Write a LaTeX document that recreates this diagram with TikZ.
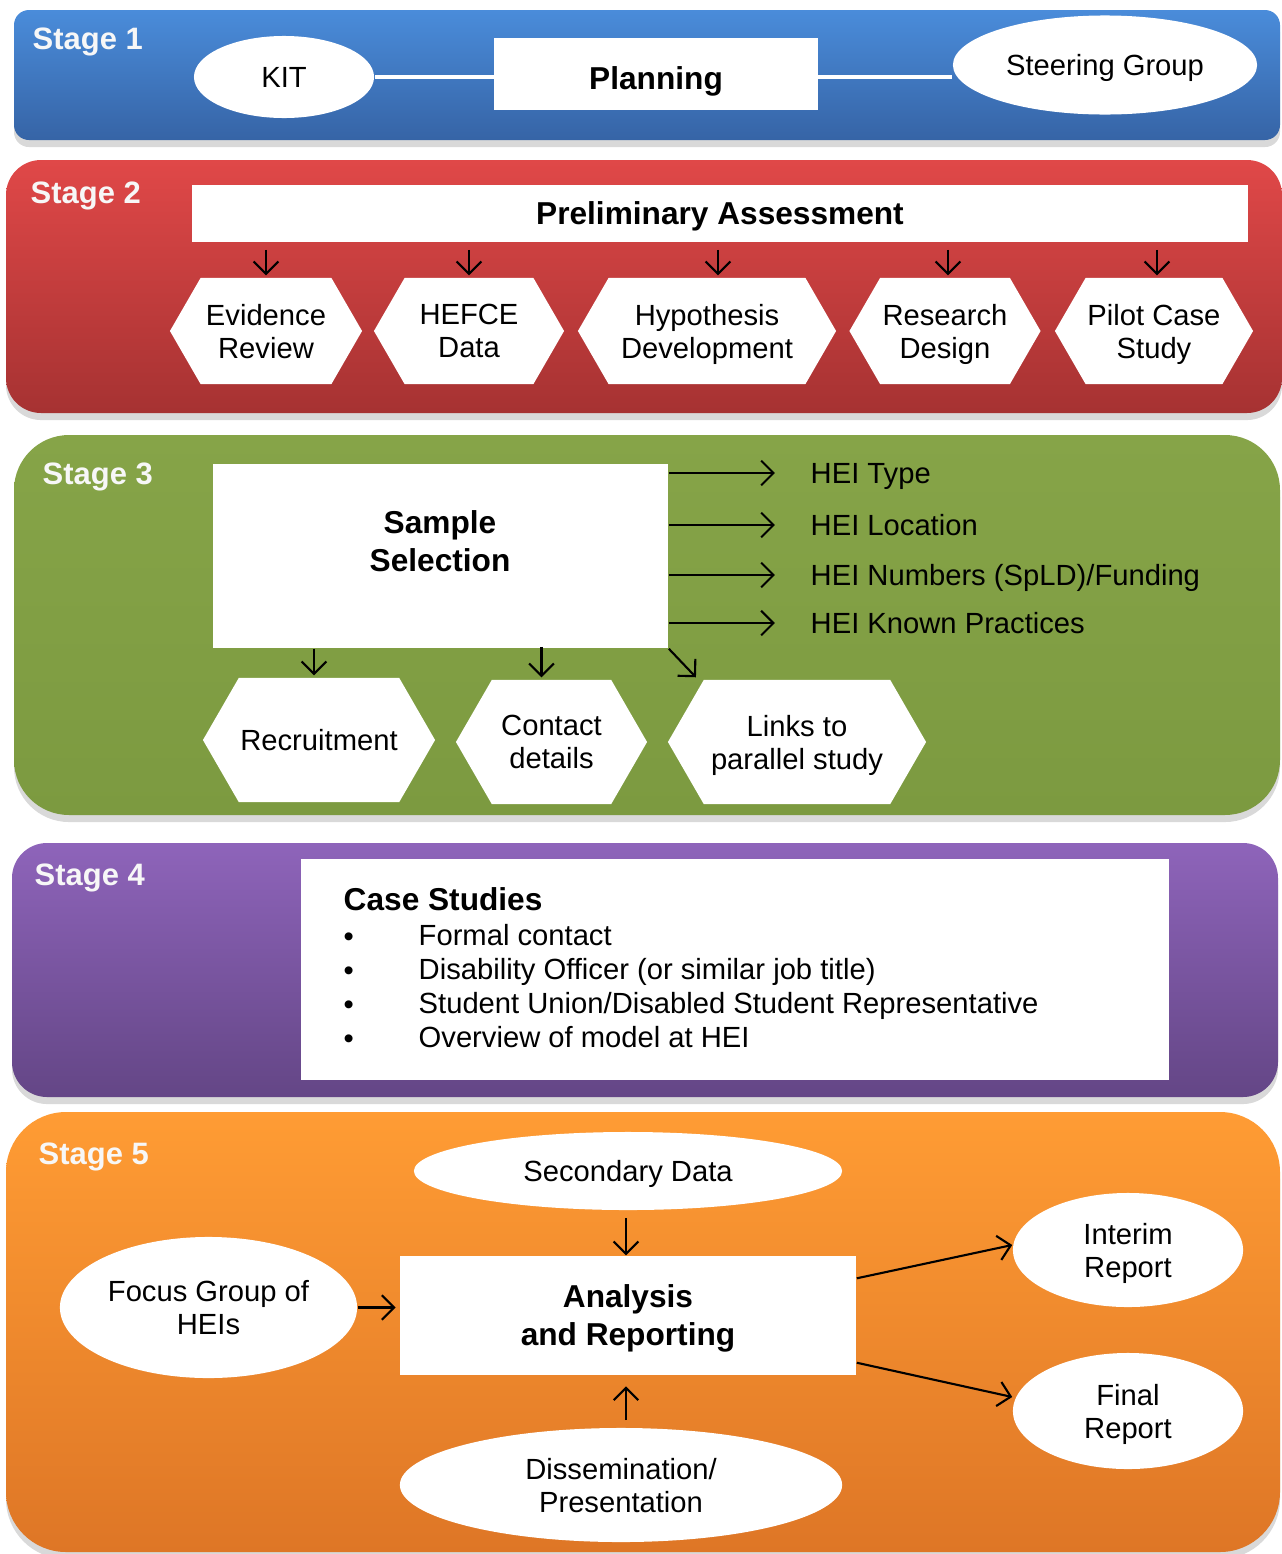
\documentclass[tikz,border=0pt]{standalone}
\usepackage{fontspec}
\setmainfont{Liberation Sans}
\usetikzlibrary{shapes.geometric, shapes.symbols, arrows.meta, shadows}

\definecolor{blueTop}{RGB}{74,140,218}
\definecolor{blueBot}{RGB}{54,100,166}
\definecolor{redTop}{RGB}{224,72,72}
\definecolor{redBot}{RGB}{166,50,50}
\definecolor{greenTop}{RGB}{134,164,72}
\definecolor{greenBot}{RGB}{124,154,64}
\definecolor{purpleTop}{RGB}{142,100,186}
\definecolor{purpleBot}{RGB}{100,70,134}
\definecolor{orangeTop}{RGB}{255,156,52}
\definecolor{orangeBot}{RGB}{222,118,38}

\begin{document}
\begin{tikzpicture}
    [x=0.01cm, y=-0.01cm, >={Straight Barb[length=3.5pt,width=7pt]},
     every node/.style={font=\fontsize{8.3}{9.4}\selectfont, inner sep=0pt},
     band/.style={rounded corners=#1, drop shadow={shadow xshift=0pt, shadow yshift=-2pt, opacity=0.3}},
     stagelabel/.style={anchor=west, text=gray!6, font=\fontsize{8.8}{10}\selectfont\bfseries},
     whitebox/.style={shape=rectangle, fill=white, align=center, text depth=0pt, font=\fontsize{9}{10.8}\selectfont\bfseries},
     oval/.style={shape=ellipse, fill=white, align=center, text depth=0pt},
     hexa/.style={shape=signal, signal to=west and east, signal pointer angle=120, fill=white, align=center, text depth=0pt},
     link/.style={->, line width=0.6pt}]
    \useasboundingbox (0,0) rectangle (1282,1554);

    % stage bands
    \path[band=0.15cm, top color=blueTop, bottom color=blueBot] (14,10) rectangle (1280,140);
    \path[band=0.35cm, top color=redTop, bottom color=redBot] (6,160) rectangle (1282,413);
    \path[band=0.55cm, top color=greenTop, bottom color=greenBot] (14,435) rectangle (1280,815);
    \path[band=0.35cm, top color=purpleTop, bottom color=purpleBot] (12,843) rectangle (1278,1097);
    \path[band=0.6cm, top color=orangeTop, bottom color=orangeBot] (6,1112) rectangle (1280,1552);

    \node[stagelabel] (st1) at (32,41.5) {Stage 1};
    \node[stagelabel] (st2) at (30,195.5) {Stage 2};
    \node[stagelabel] (st3) at (42,476.5) {Stage 3};
    \node[stagelabel] (st4) at (34,877.5) {Stage 4};
    \node[stagelabel] (st5) at (38,1156.5) {Stage 5};

    % stage 1
    \node[oval, minimum width=1.80cm, minimum height=0.82cm] (kit) at (284,77) {KIT};
    \node[whitebox, text height=8.8pt, minimum width=3.23cm, minimum height=0.72cm] (plan) at (656,74) {Planning};
    \node[oval, minimum width=3.04cm, minimum height=0.99cm] (steer) at (1105,65) {Steering Group};
    \draw[white, line width=1pt] (kit.east) -- (kit.east -| plan.west);
    \draw[white, line width=1pt] (plan.east |- kit.east) -- (steer.west |- kit.east);

    % stage 2
    \node[whitebox, minimum width=10.56cm, minimum height=0.57cm] (prelim) at (720,213.5) {Preliminary Assessment};
    \node[hexa, minimum width=1.92cm, minimum height=1.06cm] (evid) at (266,331) {Evidence\\Review};
    \node[hexa, minimum width=1.90cm, minimum height=1.06cm] (hefce) at (469,331) {HEFCE\\Data};
    \node[hexa, minimum width=2.58cm, minimum height=1.06cm] (hypo) at (707,331) {Hypothesis\\Development};
    \node[hexa, minimum width=1.91cm, minimum height=1.06cm] (design) at (945,331) {Research\\Design};
    \node[hexa, minimum width=1.98cm, minimum height=1.06cm] (pilot) at (1154,331) {Pilot Case\\Study};
    \foreach \n/\dx in {evid/0, hefce/0, hypo/0.11, design/0.03, pilot/0.03}
        \draw[link, shorten <=2pt] ([xshift=\dx cm]prelim.south -| \n.north) -- ([xshift=\dx cm, yshift=0.02cm]\n.north);

    % stage 3
    \node[whitebox, minimum width=4.55cm, minimum height=1.84cm] (sample) at (440.5,556) {};
    \node[whitebox, fill=none] (sampletxt) at (440,541) {Sample\\Selection};
    \node[anchor=base west] (htype) at (810,483) {HEI Type};
    \node[anchor=base west] (hloc) at (810,535) {HEI Location};
    \node[anchor=base west] (hnum) at (810,585) {HEI Numbers (SpLD)/Funding};
    \node[anchor=base west] (hprac) at (810,633) {HEI Known Practices};
    \foreach \n in {htype, hloc, hnum, hprac}
        \draw[link] ([yshift=0.1cm]sample.east |- \n.base west) -- ([xshift=-0.35cm, yshift=0.1cm]\n.base west);
    \node[hexa, minimum width=2.32cm, minimum height=1.24cm] (recruit) at (319,740) {Recruitment};
    \node[hexa, minimum width=1.91cm, minimum height=1.24cm] (contact) at (551.5,742) {Contact\\details};
    \node[hexa, minimum width=2.58cm, minimum height=1.24cm] (links) at (797,742) {Links to\\parallel study};
    \draw[link] ([xshift=-0.05cm]sample.south -| recruit.north) -- ([xshift=-0.05cm, yshift=0.02cm]recruit.north);
    \draw[link] ([xshift=-0.1cm, yshift=0.02cm]sample.south -| contact.north) -- ([xshift=-0.1cm, yshift=0.02cm]contact.north);
    \draw[link] (sample.south east) -- ([xshift=-1.01cm, yshift=0.02cm]links.north);

    % stage 4
    \node[whitebox, minimum width=8.68cm, minimum height=2.21cm] (cases) at (735,969.5) {};
    \node[anchor=west, font=\fontsize{9}{10.8}\selectfont\bfseries] (casehead) at (343,899) {Case Studies};
    \foreach \txt [count=\i] in {Formal contact, Disability Officer (or similar job title), Student Union/Disabled Student Representative, Overview of model at HEI} {
        \node[anchor=base west] (dot\i) at (343,912+34*\i) {\textbullet};
        \node[anchor=base west] (item\i) at (418,911+34*\i) {\txt};
    }

    % stage 5
    \node[oval, minimum width=4.28cm, minimum height=0.78cm] (secdata) at (628,1171) {Secondary Data};
    \node[whitebox, minimum width=4.56cm, minimum height=1.19cm] (analysis) at (628,1315.5) {Analysis\\and Reporting};
    \node[oval, minimum width=2.97cm, minimum height=1.41cm] (focus) at (208.5,1307.5) {Focus Group of\\HEIs};
    \node[oval, minimum width=4.42cm, minimum height=1.14cm] (dissem) at (621,1485) {Dissemination/\\Presentation};
    \node[oval, minimum width=2.30cm, minimum height=1.14cm] (interim) at (1128,1250) {Interim\\Report};
    \node[oval, minimum width=2.30cm, minimum height=1.16cm] (final) at (1128,1411) {Final\\Report};
    \draw[link, shorten <=2pt] ([xshift=-0.02cm]secdata.south) -- ([xshift=-0.02cm]secdata.south |- analysis.north);
    \draw[link, shorten >=1pt] (focus.east) -- (focus.east -| analysis.west);
    \draw[link, shorten <=2pt, shorten >=3pt] ([xshift=0.05cm]dissem.north) -- ([xshift=0.05cm]dissem.north |- analysis.south);
    \draw[link] ([yshift=-0.23cm]analysis.north east) -- ([yshift=0.05cm]interim.west);
    \draw[link] ([yshift=0.13cm]analysis.south east) -- ([yshift=0.14cm]final.west);
\end{tikzpicture}
\end{document}
